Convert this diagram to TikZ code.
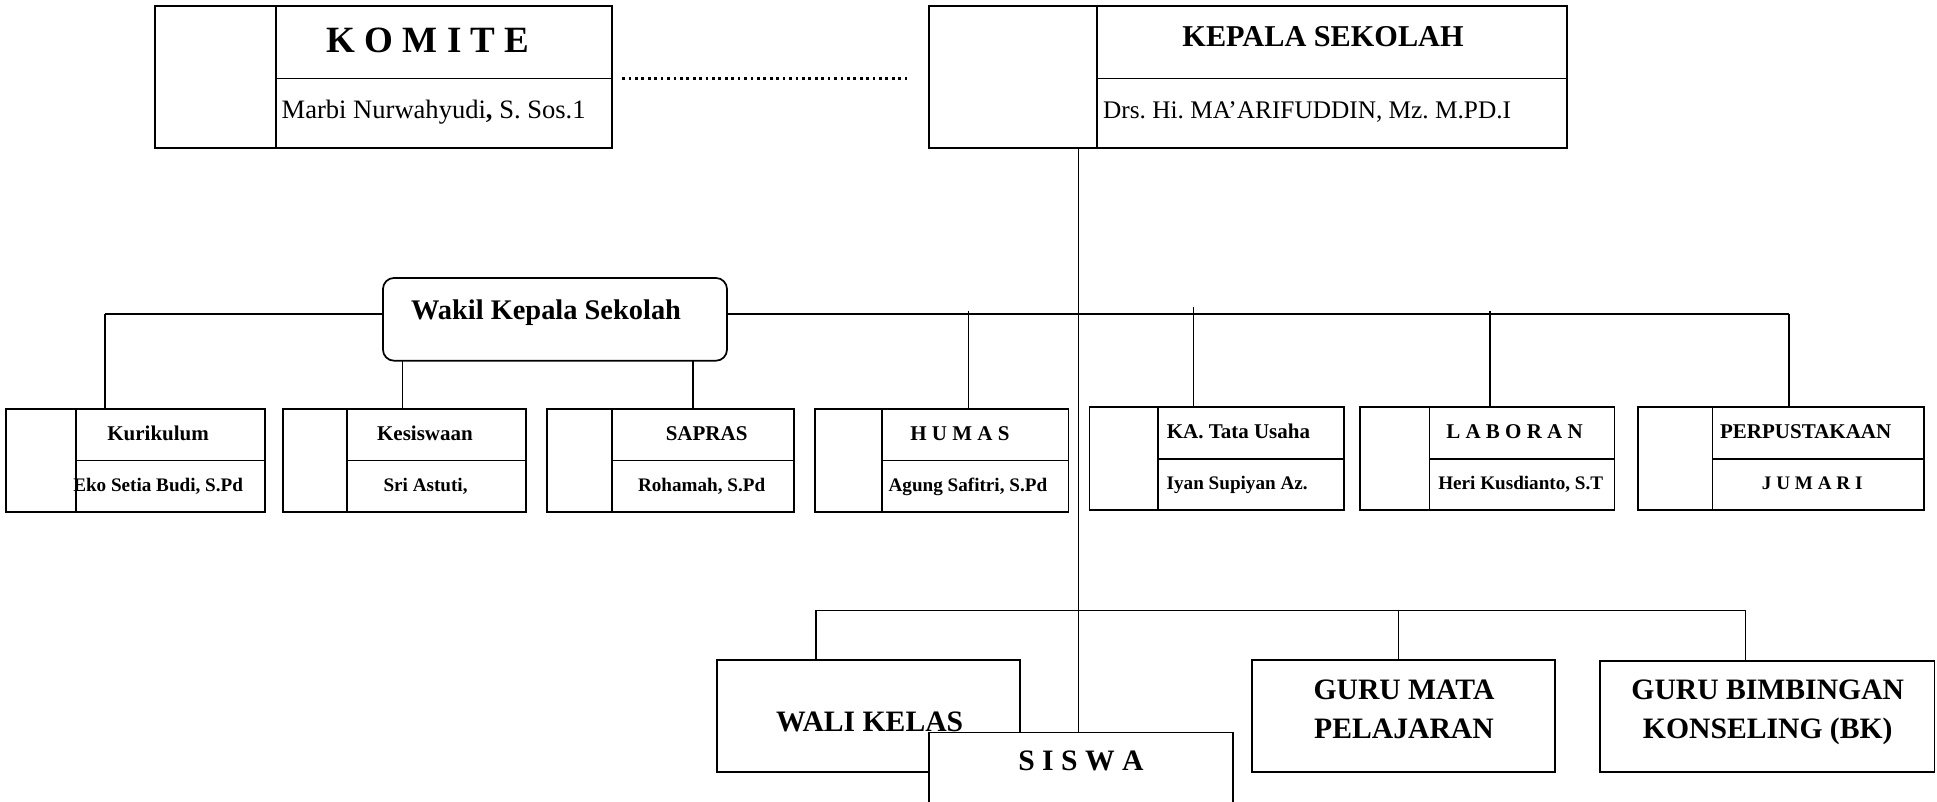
\documentclass[tikz,border=0pt]{standalone}
\usepackage{fontspec}
\setmainfont{Liberation Serif}
\frenchspacing
\newcommand{\fsz}[1]{\fontsize{#1}{#1}\selectfont}
\tikzset{
  bx/.style={draw, line width=1.4pt, fill=white, inner sep=0pt, outer sep=0pt, anchor=north west},
  dv/.style={line width=1.1pt},
  cn/.style={line width=1.2pt},
  barline/.style={line width=1.5pt},
  dotl/.style={line width=2.4pt, dash pattern=on 2.2pt off 3pt},
  tt/.style={inner sep=0pt, outer sep=0pt, anchor=base},
  ttl/.style={inner sep=0pt, outer sep=0pt, anchor=base west},
  rowtitle/.style={tt, font=\bfseries\fsz{17}},
  rowname/.style={tt, font=\bfseries\fsz{15.5}},
  bigt/.style={inner sep=0pt, outer sep=0pt, align=center, font=\bfseries\fontsize{24}{32}\selectfont},
}
% name, x1, y1, x2, y2, xdiv, ydiv
\newcommand{\orgbox}[7]{%
  \node[bx, minimum width={(#4)-(#2)}, minimum height={(#5)-(#3)}] (#1) at (#2,#3) {};
  \draw[dv] (#6,#3) -- (#6,#5);
  \draw[dv] (#6,#7) -- (#4,#7);}
\begin{document}
\begin{tikzpicture}[x=1pt,y=-1pt]
\useasboundingbox (0,0) rectangle (1568,649);
\fill[white] (0,0) rectangle (1568,649);
\clip (0,0) rectangle (1568,649);

% ---- connector coordinates
\coordinate (barL) at (85,254);
\coordinate (barR) at (1448,254);
\coordinate (dkes) at (326,0);
\coordinate (dsap) at (561,0);
\coordinate (dhum) at (784,251.5);
\coordinate (dtat) at (966,248.5);
\coordinate (dlab) at (1206,251.5);
\coordinate (trunk) at (873,0);
\coordinate (bL) at (660.5,494);
\coordinate (bR) at (1413,494);
\coordinate (dgm) at (1132,494);

% ---- top boxes
\orgbox{kom}{125.5}{4.9}{495.6}{119.6}{223.5}{63.7}
\orgbox{kep}{752}{4.9}{1268.6}{119.6}{888}{63.4}

% ---- row boxes
\orgbox{kur}{5}{331}{214.5}{414.5}{61.5}{373}
\orgbox{kes}{229}{331}{425.5}{414.5}{281}{373}
\orgbox{sap}{443}{331}{643}{414.5}{495.5}{373}
\orgbox{hum}{660}{331}{865}{414.5}{714}{373}
\orgbox{tat}{882}{329.5}{1088}{413}{937.5}{371.5}
\orgbox{lab}{1101}{329.5}{1307}{413}{1157}{371.5}
\orgbox{per}{1326}{329.5}{1557.5}{413}{1386.5}{371.5}

% ---- bottom boxes
\node[bx, line width=1.5pt, minimum width=245.5pt, minimum height=90.5pt] (wali) at (580.5,534.5) {};
\node[bx, line width=1.5pt, minimum width=245.5pt, minimum height=90.5pt] (gm) at (1013.5,534.5) {};
\node[bx, line width=1.5pt, minimum width=271pt, minimum height=90pt] (bk) at (1295,535) {};

% ---- connectors
\draw[barline] (barL) -- (barR);
\draw[cn] (barL) -- (barL |- kur.north);
\draw[cn] (barR) -- (barR |- per.north);
\draw[cn] (dhum) -- (dhum |- hum.north);
\draw[cn] (dtat) -- (dtat |- tat.north);
\draw[cn] (dlab) -- (dlab |- lab.north);
\draw[dotl] ([xshift=8pt,yshift=-1.2pt]kom.east) -- ([xshift=-15pt,yshift=-1.2pt]kep.west);
\draw[cn] (wali.north -| bL) -- (bL) -- (bR) -- (bk.north -| bR);
\draw[cn] (dgm) -- (dgm |- gm.north);

% ---- wakil
\node[draw, line width=1.4pt, rounded corners=9pt, fill=white, inner sep=0pt, outer sep=0pt,
      minimum width=278.5pt, minimum height=67pt, anchor=north west] (wakil) at (310,225) {};
\draw[cn] (wakil.south -| dkes) -- (kes.north -| dkes);
\draw[cn] (wakil.south -| dsap) -- (sap.north -| dsap);

% ---- siswa and trunk
\node[bx, line width=1.5pt, minimum width=246pt, minimum height=70pt] (siswa) at (752,593) {};
\draw[cn] (kep.south -| trunk) -- (siswa.north -| trunk);

% ---- texts
\node[tt, font=\bfseries\fsz{30}] (tkom) at (346.5,42.6) {K O M I T E};
\node[ttl, font=\fsz{21.5}] (nkom) at (228,95.8) {Marbi Nurwahyudi\textbf{,} S. Sos.1};
\node[tt, font=\bfseries\fsz{24.5}] (tkep) at (1071,37.8) {KEPALA SEKOLAH};
\node[ttl, font=\fsz{20.5}] (nkep) at (893,95.8) {Drs. Hi. MA’ARIFUDDIN, Mz. M.PD.I};

\node[tt, font=\bfseries\fsz{23}] (twak) at (442,259) {Wakil Kepala Sekolah};

\node[rowtitle] (tkur) at (128,356.7) {Kurikulum};
\node[rowname]  (nkur) at (128,398) {Eko Setia Budi, S.Pd};
\node[rowtitle] (tkes) at (344,356.7) {Kesiswaan};
\node[rowname]  (nkes) at (344.5,398) {Sri Astuti,};
\node[rowtitle] (tsap) at (572,356.7) {SAPRAS};
\node[rowname]  (nsap) at (568,398) {Rohamah, S.Pd};
\node[rowtitle] (thum) at (777,356.7) {H U M A S};
\node[rowname]  (nhum) at (783.5,398) {Agung Safitri, S.Pd};
\node[rowtitle] (ttat) at (1002.5,355.2) {KA. Tata Usaha};
\node[rowname]  (ntat) at (1001.5,396.5) {Iyan Supiyan Az.};
\node[rowtitle] (tlab) at (1226,355.2) {L A B O R A N};
\node[rowname]  (nlab) at (1231,396.5) {Heri Kusdianto, S.T};
\node[rowtitle] (tper) at (1461.7,355.2) {PERPUSTAKAAN};
\node[rowname]  (nper) at (1467,396.5) {J U M A R I};

\node[bigt, anchor=center] (tgm) at (1136.5,574) {GURU MATA\\PELAJARAN};
\node[bigt, anchor=center] (tbk) at (1431,576.5) {GURU BIMBINGAN\\KONSELING (BK)};
\node[tt, font=\bfseries\fsz{24}] (tsis) at (875,624) {S I S W A};
\node[tt, font=\bfseries\fsz{24}] (twali) at (704,592) {WALI KELAS};
\end{tikzpicture}
\end{document}
